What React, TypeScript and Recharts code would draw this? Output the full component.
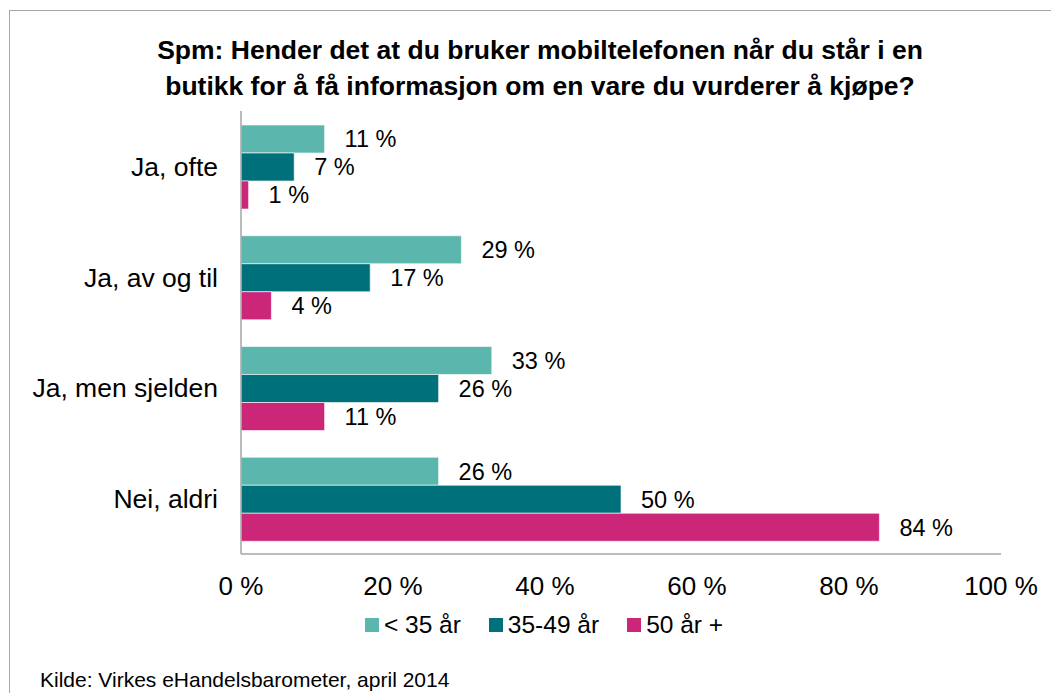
import { BarChart, Bar, XAxis, YAxis, LabelList } from 'recharts';

const categories = ['Ja, ofte', 'Ja, av og til', 'Ja, men sjelden', 'Nei, aldri'];
const under35 = [11, 29, 33, 26];
const age35to49 = [7, 17, 26, 50];
const over50 = [1, 4, 11, 84];
const xTicks = [0, 20, 40, 60, 80, 100];

const series = [
    { key: 'under35', name: '< 35 år', color: '#5bb7ae' },
    { key: 'age35to49', name: '35-49 år', color: '#00707a' },
    { key: 'over50', name: '50 år +', color: '#cc2679' },
];

const data = categories.map((name, i) => ({
    name,
    under35: under35[i],
    age35to49: age35to49[i],
    over50: over50[i],
}));

const font = '"Liberation Sans", Arial, sans-serif';
const pct = (v: any) => `${v} %`;

export default function App() {
    return (
        <div style={{ position: 'absolute', left: 0, top: 0, width: 1051, height: 693, overflow: 'hidden', background: '#fff', fontFamily: font }}>
            <div style={{ position: 'absolute', left: 9, top: 10, width: 1100, height: 800, borderTop: '1.5px solid #a6a6a6', borderLeft: '1.5px solid #a6a6a6' }} />

            <div style={{ position: 'absolute', left: 45, top: 32, width: 990, textAlign: 'center', fontWeight: 'bold', fontSize: 26.5, lineHeight: '36px', color: '#000' }}>
                Spm: Hender det at du bruker mobiltelefonen når du står i en<br />
                butikk for å få informasjon om en vare du vurderer å kjøpe?
            </div>

            <BarChart
                width={1051}
                height={693}
                data={data}
                layout="vertical"
                margin={{ top: 111, right: 50, bottom: 79, left: 0 }}
                barCategoryGap={14}
                barGap={0}
                style={{ position: 'absolute', left: 0, top: 0, fontFamily: font }}
            >
                <XAxis
                    type="number"
                    domain={[0, 100]}
                    ticks={xTicks}
                    tickFormatter={pct}
                    height={60}
                    axisLine={{ stroke: '#a6a6a6', strokeWidth: 1.5 }}
                    tickLine={false}
                    tickMargin={17}
                    tick={{ fill: '#000', fontSize: 26 }}
                    interval={0}
                />
                <YAxis
                    type="category"
                    dataKey="name"
                    width={241}
                    axisLine={{ stroke: '#a6a6a6', strokeWidth: 1.5 }}
                    tickLine={false}
                    tickMargin={17}
                    tick={{ fill: '#000', fontSize: 26.5 }}
                />
                {series.map(s => (
                    <Bar key={s.key} dataKey={s.key} name={s.name} fill={s.color} stroke="#ffffff" strokeOpacity={0.6} strokeWidth={1} isAnimationActive={false}>
                        <LabelList dataKey={s.key} position="right" offset={20} formatter={pct} fill="#000" fontSize={23.5} />
                    </Bar>
                ))}
            </BarChart>

            <div style={{ position: 'absolute', left: 0, top: 610, width: 1088, display: 'flex', justifyContent: 'center', gap: 28, fontSize: 24.5, lineHeight: '30px', color: '#000' }}>
                {series.map(s => (
                    <div key={s.key} style={{ display: 'flex', alignItems: 'center' }}>
                        <span style={{ display: 'inline-block', width: 14, height: 14, background: s.color, marginRight: 5 }} />
                        <span>{s.name}</span>
                    </div>
                ))}
            </div>

            <div style={{ position: 'absolute', left: 40, top: 667, fontSize: 21, lineHeight: '26px', color: '#000' }}>
                Kilde: Virkes eHandelsbarometer, april 2014
            </div>
        </div>
    );
}
